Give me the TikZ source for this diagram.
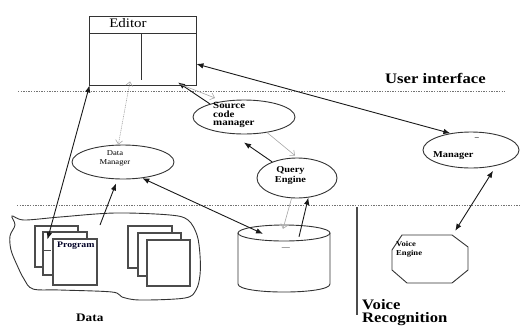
\documentclass[tikz,border=0pt]{standalone}
\usepackage{fontspec}
\setmainfont{Liberation Serif}[FakeStretch=1.15]
\usetikzlibrary{arrows.meta,shapes.geometric}

\newcommand{\fs}[1]{\fontsize{#1}{#1}\selectfont}

\begin{document}
\begin{tikzpicture}[x=1pt,y=-1pt,
  outline/.style={draw=black!80, line width=0.9pt},
  bubble/.style={ellipse, outline, inner sep=0pt},
  docbox/.style={rectangle, draw=black!70, line width=1.1pt, fill=white, inner sep=0pt},
  hole/.style={inner sep=0pt},
  sep/.style={draw=black!55, line width=0.8pt, dash pattern=on 1.4pt off 1.2pt},
  conn/.style={draw=black!90, line width=0.9pt},
  head/.tip={Latex[length=7pt,width=5.5pt]},
  arr/.style={conn, -head},
  darr/.style={conn, head-head},
  soft/.style={draw=black!35, line width=0.6pt, -{Straight Barb[length=4pt,width=7pt]}},
  softd/.style={draw=black!35, line width=0.6pt, dash pattern=on 1pt off 0.8pt,
    {Straight Barb[length=4pt,width=7pt]}-{Straight Barb[length=4pt,width=7pt]}},
  lbl/.style={inner sep=0pt, text=black},
  title/.style={lbl, font=\fs{14.5}\bfseries, anchor=base west, align=left},
]
\useasboundingbox (0,0) rectangle (521,327);

% layer separators
\draw[sep] (18,91) -- (505,91);
\draw[sep] (17,205) -- (521,205);
\draw[draw=black!70, line width=1.1pt] (357,207) -- (357,315);

% editor window
\node[rectangle, outline, minimum width=107, minimum height=69, inner sep=0pt] (editor) at (142.5,50.5) {};
\draw[outline] (89,33) -- (196,33);
\draw[outline] (141,33) -- (141,80);
\node[lbl, font=\fs{13}] (editorlbl) at (128,23) {Editor};

% section titles
\node[title] (uilbl) at (385,83) {User interface};
\node[title, font=\fs{11.5}\bfseries] (datalbl) at (76,321) {Data};
\node[title] (voicelbl) at (362,309) {Voice};
\node[title] (recoglbl) at (362,322.5) {Recognition};

% managers and engines
\node[bubble, minimum width=102, minimum height=34] (scm) at (244,117) {};
\node[lbl, font=\fs{9.5}\bfseries, align=left, anchor=north west] (scmlbl) at (213,102.5)
  {Source\\[-1.2pt]code\\[-1.2pt]manager};

\node[bubble, minimum width=80, minimum height=40] (qe) at (297,178) {};
\node[lbl, font=\fs{9}\bfseries, align=center] (qelbl) at (290.5,175.5) {Query\\[1pt]Engine};

\node[bubble, minimum width=102, minimum height=34] (dm) at (123,162) {};
\node[lbl, font=\fs{7.5}, align=center] (dmlbl) at (115,158.5) {Data\\[1.5pt]Manager};

\node[bubble, minimum width=96, minimum height=36] (manager) at (471,150) {};
\node[lbl, font=\fs{7}\bfseries] (mgrdash) at (477,139) {--};
\node[lbl, font=\fs{9}\bfseries, anchor=base west] (mgrlbl) at (433,157) {Manager};

% voice engine (octagon)
\node[hole, minimum width=76, minimum height=48] (voice) at (430,259) {};
\draw[outline, shift={(voice.center)}] (-28,-24) -- (22,-24) -- (38,-12) -- (38,11)
  -- (22,24) -- (-23,24) -- (-38,11) -- (-38,-9) -- cycle;
\node[lbl, font=\fs{7.5}\bfseries, align=left, anchor=north west] (voicetxt) at (396,241.5)
  {Voice\\[1pt]Engine};

% repository (cylinder)
\node[hole, minimum width=92, minimum height=67] (db) at (284,258.5) {};
\begin{scope}[shift={(db.center)}]
  \draw[outline, fill=white] (0,-25.5) ellipse [x radius=46, y radius=8];
  \draw[outline] (-46,-25.5) -- (-46,25.5) .. controls (-46,36.2) and (46,36.2) .. (46,25.5) -- (46,-25.5);
\end{scope}
\node[lbl, font=\fs{7}] (dbdash) at (286,249) {---};

% data area
\draw[outline] plot[smooth cycle, tension=0.55] coordinates {
  (12,216) (24,220) (60,217) (115,213) (170,215) (188,220) (197,235) (200,255)
  (200,275) (196,290) (185,298) (140,300) (122,297) (112,292) (60,290) (33,289)
  (24,279) (17,265) (11,250) (10,236) (15,225)};

\node[docbox, minimum width=43, minimum height=41] (p1) at (56.5,246.5) {};
\node[docbox, minimum width=44, minimum height=43] (p2) at (65,253.5) {};
\node[docbox, minimum width=44, minimum height=46] (p3) at (75,262) {};
\node[lbl, font=\fs{8.5}\bfseries, text=black!85!blue, anchor=base west] (proglbl) at (57,247) {Program};
\draw[draw=black!70, line width=0.7pt] (42,250) -- (51,250);

\node[docbox, minimum width=44, minimum height=42] (q1) at (150,247) {};
\node[docbox, minimum width=43, minimum height=43] (q2) at (159.5,254.5) {};
\node[docbox, minimum width=43, minimum height=46] (q3) at (168.5,263) {};

\coordinate (blobtip) at (100,225);

% connectors
\draw[darr] ([yshift=-13.5]editor.east) -- (manager.141);
\draw[darr] ([xshift=1]editor.south west) -- ([shift={(5,8)}]p2.north west);
\draw[softd] ([shift={(-12.5,-4)}]editor.south) -- (dm.105);
\draw[arr] (scm.159) -- ([shift={(35.5,-3)}]editor.south);
\draw[soft] ([shift={(38,-1)}]editor.south) -- ([shift={(-29,-19)}]scm.center);
\draw[arr] (qe.147) -- ([yshift=-8]scm.south);
\draw[soft] (scm.-34) -- ([shift={(-2,-2)}]qe.north);
\draw[soft] (qe.-105) -- ([shift={(-1,4)}]db.north);
\draw[arr] ([shift={(15,12)}]db.north) -- (qe.-60);
\draw[darr] (dm.-40) -- ([shift={(-21,9)}]db.north);
\draw[arr] (blobtip) -- ([shift={(-7,4)}]dm.south);
\draw[darr] ([shift={(2,4)}]manager.-40) -- ([shift={(-13,-4)}]voice.north east);
\end{tikzpicture}
\end{document}
